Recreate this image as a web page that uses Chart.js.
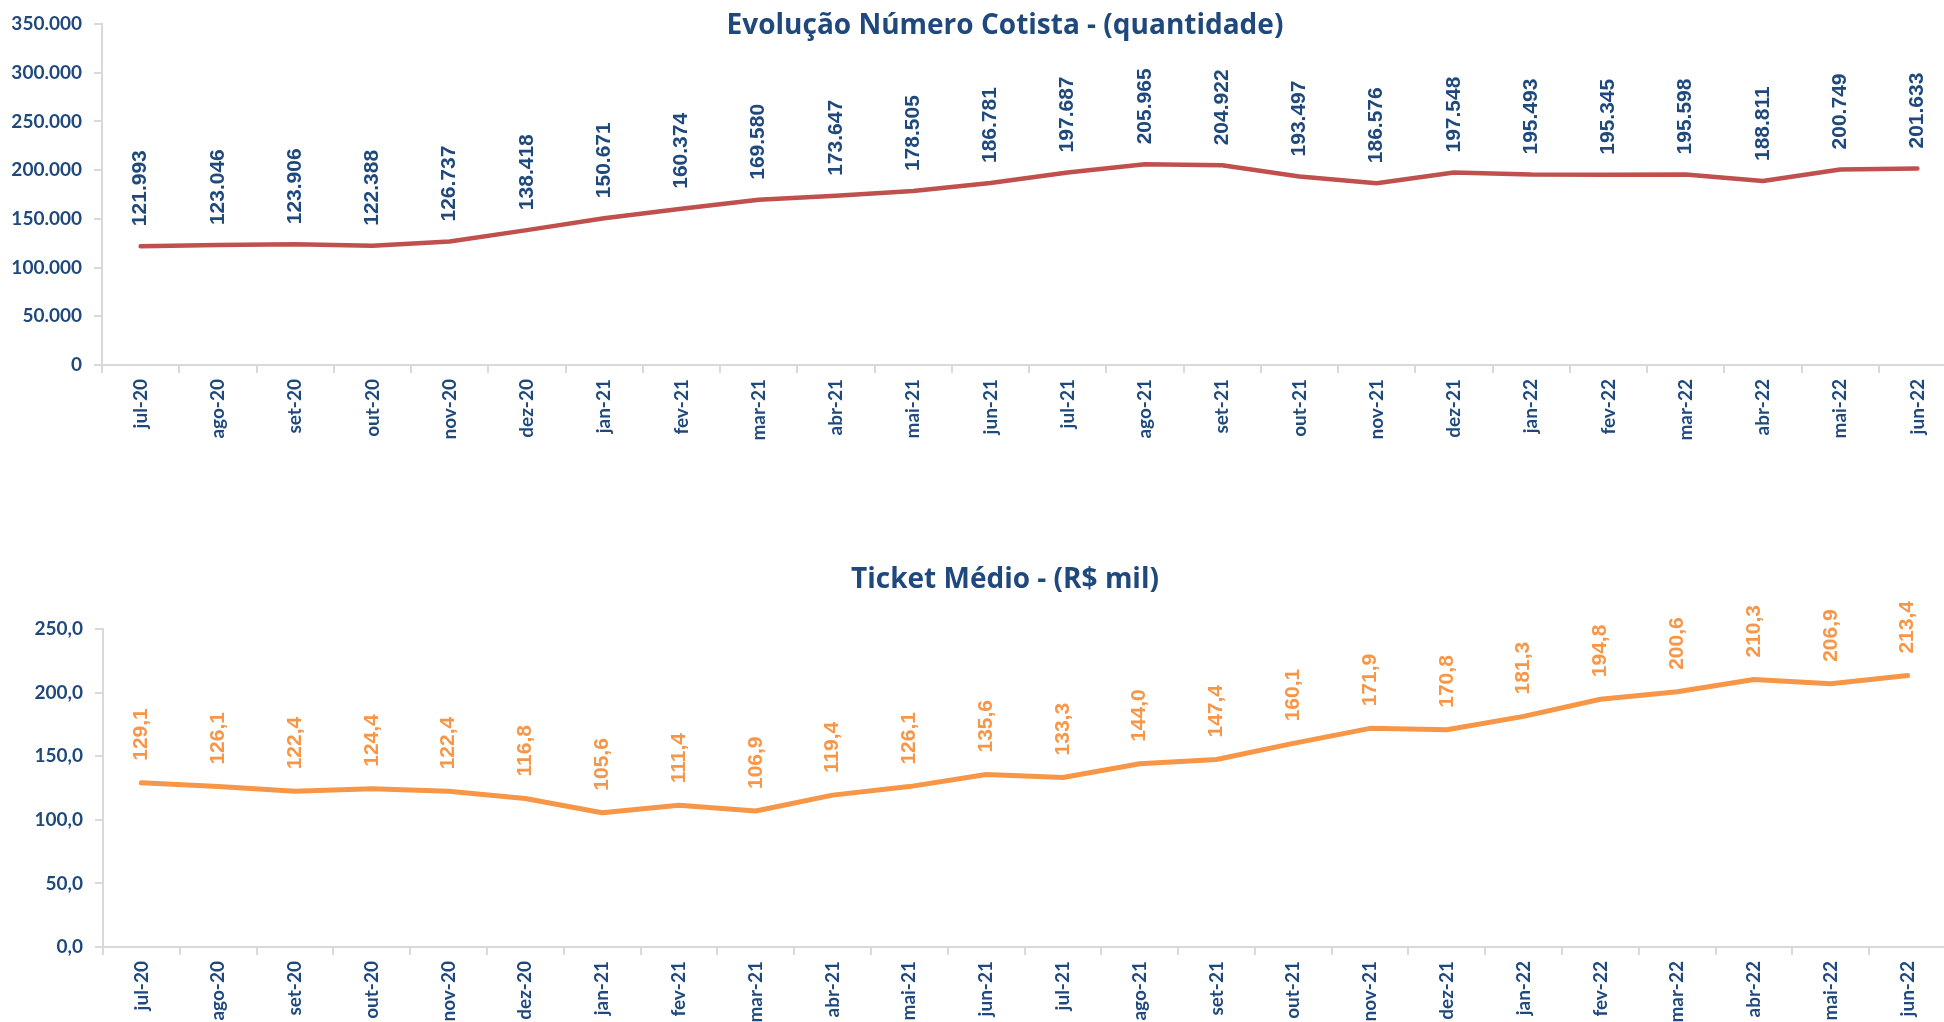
<!DOCTYPE html>
<html lang="pt-BR">
<head>
<meta charset="utf-8">
<title>Cotistas e Ticket Médio</title>
<script src="https://cdn.jsdelivr.net/npm/chart.js@4.4.1/dist/chart.umd.min.js"></script>
<style>
  html, body { margin: 0; padding: 0; background: #fff; overflow: hidden; width: 1944px; height: 1022px; }
  canvas { position: absolute; left: 0; }
  .titulo {
    position: absolute; left: 0; width: 2010px; z-index: 2;
    font-family: "Open Sans", sans-serif; font-weight: bold; font-size: 28px; line-height: 1;
    color: #1f497d; text-align: center; white-space: nowrap;
  }
</style>
</head>
<body>
<canvas id="graficoCotista" width="1960" height="445" style="top:0"></canvas>
<div class="titulo" style="top:9px;">Evolução Número Cotista - (quantidade)</div>
<canvas id="graficoTicket" width="1950" height="467" style="top:560px"></canvas>
<div class="titulo" style="top:563px;">Ticket Médio - (R$ mil)</div>

<script>
// meses
const MESES = ['jul-20', 'ago-20', 'set-20', 'out-20', 'nov-20', 'dez-20',
  'jan-21', 'fev-21', 'mar-21', 'abr-21', 'mai-21', 'jun-21',
  'jul-21', 'ago-21', 'set-21', 'out-21', 'nov-21', 'dez-21',
  'jan-22', 'fev-22', 'mar-22', 'abr-22', 'mai-22', 'jun-22'];

// número de cotistas
const COTISTAS = [121993, 123046, 123906, 122388, 126737, 138418,
  150671, 160374, 169580, 173647, 178505, 186781,
  197687, 205965, 204922, 193497, 186576, 197548,
  195493, 195345, 195598, 188811, 200749, 201633];

// ticket médio (R$ mil)
const TICKET = [129.1, 126.1, 122.4, 124.4, 122.4, 116.8,
  105.6, 111.4, 106.9, 119.4, 126.1, 135.6,
  133.3, 144.0, 147.4, 160.1, 171.9, 170.8,
  181.3, 194.8, 200.6, 210.3, 206.9, 213.4];

// eixo Y (valores das marcas)
const EIXO_COTISTAS = [0, 50000, 100000, 150000, 200000, 250000, 300000, 350000];
const EIXO_TICKET = [0, 50, 100, 150, 200, 250];

// cores
const COR_TEXTO = '#1f497d';
const COR_COTISTA = '#c0504d';
const COR_TICKET = '#f79646';
const COR_EIXO = '#d9d9d9';

// 121993 -> "121.993"
function formatarMilhar(v) {
  return String(Math.round(v)).replace(/\B(?=(\d{3})+(?!\d))/g, '.');
}

// 129.1 -> "129,1"
function formatarDecimal(v) {
  return Number(v).toFixed(1).replace('.', ',');
}

/*
  rótulos de valor na vertical acima de cada ponto
*/
function criarRotulos(formato, cor, distancia) {
  return {
    id: 'rotulos',
    afterDatasetsDraw(chart) {
      const ctx = chart.ctx;
      const meta = chart.getDatasetMeta(0);
      const dados = chart.data.datasets[0].data;
      ctx.save();
      ctx.font = 'bold 21px "Liberation Sans", Arial, sans-serif';
      ctx.fillStyle = cor;
      ctx.textAlign = 'left';
      ctx.textBaseline = 'middle';
      meta.data.forEach(function(ponto, i) {
        ctx.save();
        ctx.translate(ponto.x, ponto.y - distancia);
        ctx.rotate(-Math.PI / 2);
        ctx.fillText(formato(dados[i]), 0, 0);
        ctx.restore();
      });
      ctx.restore();
    }
  };
}

/*
  escalas comuns aos dois gráficos
*/
function montarEscalas(marcas, formato, larguraY) {
  const fonte = { family: 'Lato', weight: 'bold', size: 19 };
  return {
    x: {
      offset: true,
      grid: { offset: true, drawOnChartArea: false, tickLength: 8, color: COR_EIXO, lineWidth: 2 },
      border: { display: true, color: COR_EIXO, width: 2 },
      ticks: { autoSkip: false, minRotation: 90, maxRotation: 90, padding: 6, color: COR_TEXTO, font: fonte },
      afterFit: function(scale) { scale.height = 80; }
    },
    y: {
      min: marcas[0],
      max: marcas[marcas.length - 1],
      afterBuildTicks: function(scale) {
        scale.ticks = marcas.map(function(v) { return { value: v }; });
      },
      grid: { drawOnChartArea: false, tickLength: 8, color: COR_EIXO, lineWidth: 2 },
      border: { display: true, color: COR_EIXO, width: 2 },
      ticks: { padding: 12, color: COR_TEXTO, font: fonte, callback: function(v) { return formato(v); } },
      afterFit: function(scale) { scale.width = larguraY; }
    }
  };
}

/*
  desenho do gráfico
*/
function desenharGrafico(id, valores, cor, largura, marcas, formato, larguraY, padding, rotulos) {
  return new Chart(document.getElementById(id), {
    type: 'line',
    data: {
      labels: MESES,
      datasets: [{
        data: valores,
        borderColor: cor,
        borderWidth: largura,
        borderCapStyle: 'round',
        borderJoinStyle: 'round',
        pointRadius: 0,
        tension: 0,
        fill: false
      }]
    },
    options: {
      responsive: false,
      animation: false,
      layout: { padding: padding },
      plugins: { legend: { display: false }, tooltip: { enabled: false } },
      scales: montarEscalas(marcas, formato, larguraY)
    },
    plugins: [rotulos]
  });
}

desenharGrafico('graficoCotista', COTISTAS, COR_COTISTA, 4.5, EIXO_COTISTAS, formatarMilhar, 102,
  { top: 24, right: 4, left: 0, bottom: 0 },
  criarRotulos(formatarMilhar, COR_TEXTO, 20));

desenharGrafico('graficoTicket', TICKET, COR_TICKET, 5, EIXO_TICKET, formatarDecimal, 103,
  { top: 69, right: 4, left: 0, bottom: 0 },
  criarRotulos(formatarDecimal, COR_TICKET, 22));
</script>
</body>
</html>
